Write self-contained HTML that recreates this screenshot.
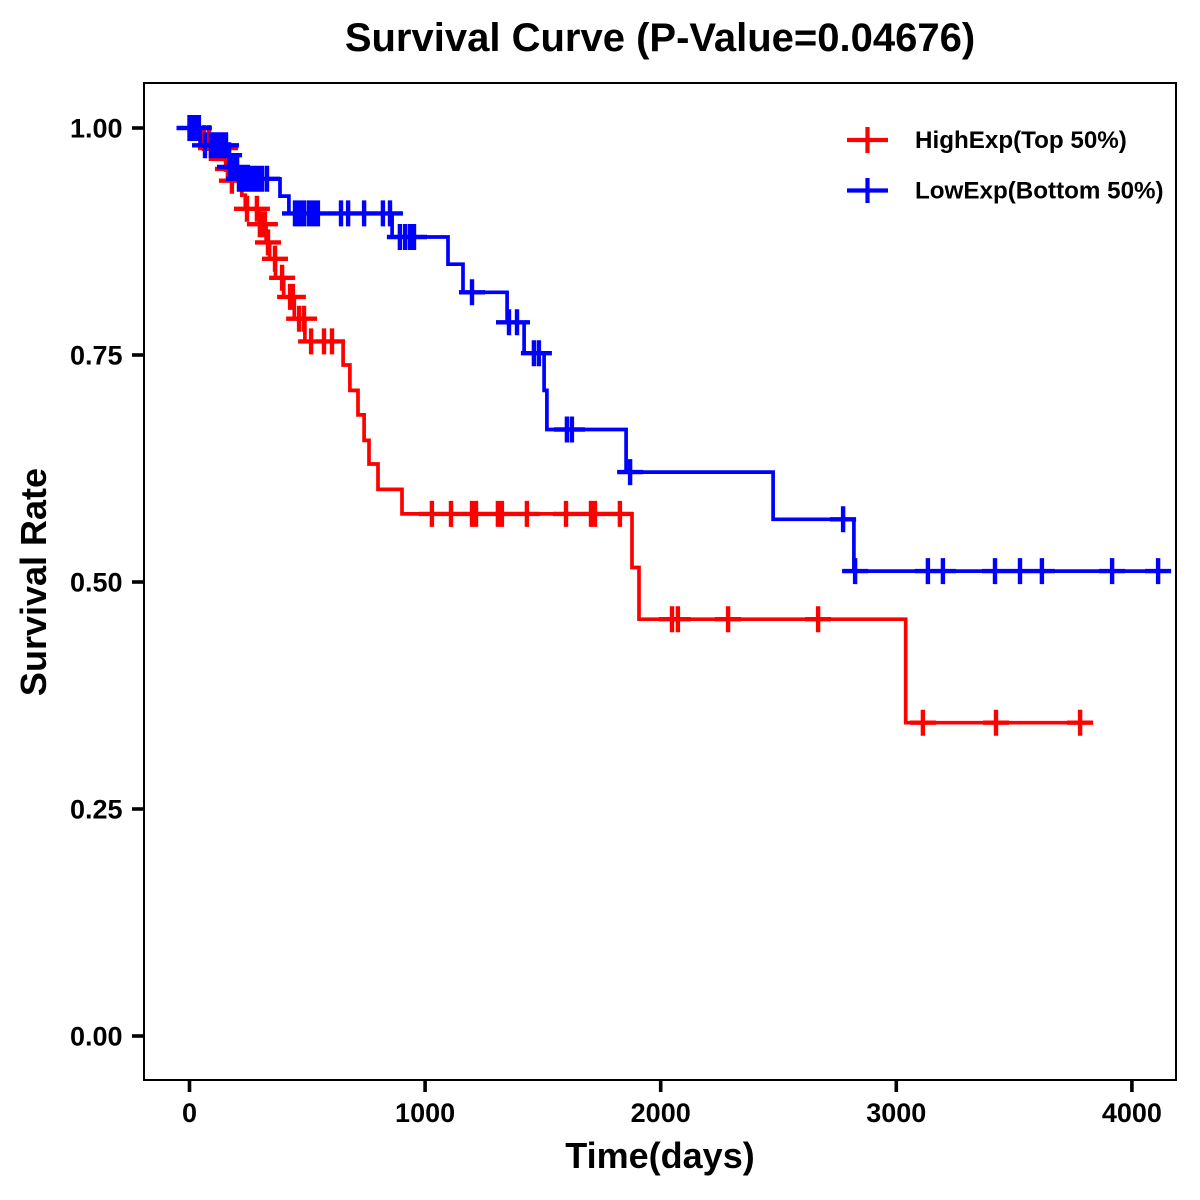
<!DOCTYPE html>
<html lang="en">
<head>
<meta charset="utf-8">
<title>Survival Curve</title>
<style>
html,body{margin:0;padding:0;background:#fff;}
svg{display:block;}
text{font-family:"Liberation Sans",Arial,sans-serif;font-weight:bold;fill:#000;}
</style>
</head>
<body>
<svg id="chart" xmlns="http://www.w3.org/2000/svg" width="1200" height="1200" viewBox="0 0 1200 1200">
  <rect x="0" y="0" width="1200" height="1200" fill="#fff"/>
  <text x="660" y="51" font-size="40" text-anchor="middle">Survival Curve (P-Value=0.04676)</text>
  <g id="series"></g>
  <rect x="144" y="83" width="1032" height="997" fill="none" stroke="#000" stroke-width="2"/>
  <g id="axes"></g>
  <text x="660" y="1168" font-size="36" text-anchor="middle">Time(days)</text>
  <text transform="translate(46 582) rotate(-90)" font-size="36" text-anchor="middle">Survival Rate</text>
  <g>
    <g>
      <path d="M847 140H888M867.5 127V153" stroke="#f00" stroke-width="4.2" fill="none"/>
      <text x="915" y="148" font-size="24.2">HighExp(Top 50%)</text>
    </g>
    <g>
      <path d="M847 190.500H888M867.500 178V203" stroke="#00f" stroke-width="4.2" fill="none"/>
      <text x="915" y="198.500" font-size="24.2">LowExp(Bottom 50%)</text>
    </g>
  </g>
</svg>
<script>
const xTickValues = [0, 1000, 2000, 3000, 4000];
const yTickValues = [0, 0.25, 0.5, 0.75, 1];
const yTickLabels = ["0.00", "0.25", "0.50", "0.75", "1.00"];

const highStepTimes = [32, 85, 153, 160, 170, 222, 237, 295, 325, 340, 365, 400, 445, 490, 652, 681, 715, 741, 762, 800, 902, 1878, 1908, 3040];
const highStepSurvival = [0.989, 0.978, 0.966, 0.955, 0.942, 0.926, 0.911, 0.894, 0.874, 0.856, 0.835, 0.814, 0.79, 0.765, 0.739, 0.711, 0.684, 0.656, 0.63, 0.602, 0.575, 0.516, 0.459, 0.345];
const highCensorTimes = [62, 83, 91, 121, 151, 155, 163, 180, 244, 286, 299, 310, 320, 333, 363, 393, 427, 439, 465, 486, 516, 571, 605, 1029, 1110, 1199, 1216, 1309, 1326, 1432, 1598, 1704, 1721, 1827, 2048, 2073, 2286, 2668, 3113, 3423, 3780];

const lowStepTimes = [45, 163, 170, 206, 384, 422, 860, 1097, 1161, 1348, 1420, 1505, 1517, 1853, 2477, 2820];
const lowStepSurvival = [0.981, 0.97, 0.957, 0.944, 0.925, 0.906, 0.88, 0.85, 0.819, 0.786, 0.752, 0.711, 0.668, 0.621, 0.569, 0.512];
const lowCensorTimes = [0, 5, 12, 18, 25, 32, 40, 66, 91, 104, 117, 129, 142, 155, 168, 172, 189, 202, 210, 223, 236, 249, 261, 274, 287, 299, 308, 329, 448, 461, 473, 486, 507, 520, 532, 545, 643, 673, 741, 821, 851, 893, 915, 936, 953, 1199, 1356, 1390, 1462, 1483, 1602, 1623, 1870, 2774, 2825, 3134, 3198, 3419, 3525, 3618, 3916, 4111];

const SVG_NS = "http://www.w3.org/2000/svg";
function xScale(t) { return 189.5 + t * 0.2356; }
function yScale(s) { return 128 + (1 - s) * 908; }
function survivalAt(times, values, t) {
  let s = 1;
  for (let i = 0; i < times.length; i++) { if (times[i] <= t) s = values[i]; }
  return s;
}
function stepPath(times, values, censors) {
  let s = 1;
  let d = "M" + xScale(0) + " " + yScale(1);
  for (let i = 0; i < times.length; i++) {
    d += "H" + xScale(times[i]).toFixed(1);
    s = values[i];
    d += "V" + yScale(s).toFixed(1);
  }
  const last = Math.max(times[times.length - 1], censors[censors.length - 1]);
  d += "H" + xScale(last).toFixed(1);
  return d;
}
function censorPath(times, values, censors) {
  let d = "";
  for (const t of censors) {
    const x = xScale(t);
    const y = yScale(survivalAt(times, values, t));
    d += "M" + (x - 13).toFixed(1) + " " + y.toFixed(1) + "H" + (x + 13).toFixed(1);
    d += "M" + x.toFixed(1) + " " + (y - 13).toFixed(1) + "V" + (y + 13).toFixed(1);
  }
  return d;
}
function drawSeries(name, color, times, values, censors) {
  const group = document.getElementById("series");
  const line = document.createElementNS(SVG_NS, "path");
  line.setAttribute("d", stepPath(times, values, censors));
  line.setAttribute("fill", "none");
  line.setAttribute("stroke", color);
  line.setAttribute("stroke-width", "3.7");
  
  
  group.appendChild(line);
  const marks = document.createElementNS(SVG_NS, "path");
  marks.setAttribute("d", censorPath(times, values, censors));
  marks.setAttribute("fill", "none");
  marks.setAttribute("stroke", color);
  marks.setAttribute("stroke-width", "4.4");
  
  
  group.appendChild(marks);
}
drawSeries("high-exp", "#f00", highStepTimes, highStepSurvival, highCensorTimes);
drawSeries("low-exp", "#00f", lowStepTimes, lowStepSurvival, lowCensorTimes);

const axes = document.getElementById("axes");
xTickValues.forEach(function (v) {
  const tick = document.createElementNS(SVG_NS, "line");
  tick.setAttribute("x1", xScale(v));
  tick.setAttribute("x2", xScale(v));
  tick.setAttribute("y1", 1080);
  tick.setAttribute("y2", 1092);
  tick.setAttribute("stroke", "#000");
  tick.setAttribute("stroke-width", "3.6");
  
  
  axes.appendChild(tick);
  const label = document.createElementNS(SVG_NS, "text");
  label.setAttribute("x", xScale(v));
  label.setAttribute("y", 1122);
  label.setAttribute("font-size", "27");
  label.setAttribute("text-anchor", "middle");
  
  
  label.textContent = String(v);
  axes.appendChild(label);
});
yTickValues.forEach(function (v, i) {
  const tick = document.createElementNS(SVG_NS, "line");
  tick.setAttribute("x1", 132);
  tick.setAttribute("x2", 144);
  tick.setAttribute("y1", yScale(v));
  tick.setAttribute("y2", yScale(v));
  tick.setAttribute("stroke", "#000");
  tick.setAttribute("stroke-width", "3.6");
  
  
  axes.appendChild(tick);
  const label = document.createElementNS(SVG_NS, "text");
  label.setAttribute("x", 122.5);
  label.setAttribute("y", yScale(v) + 9.5);
  label.setAttribute("font-size", "27");
  label.setAttribute("text-anchor", "end");
  
  
  label.textContent = yTickLabels[i];
  axes.appendChild(label);
});
</script>
</body>
</html>
